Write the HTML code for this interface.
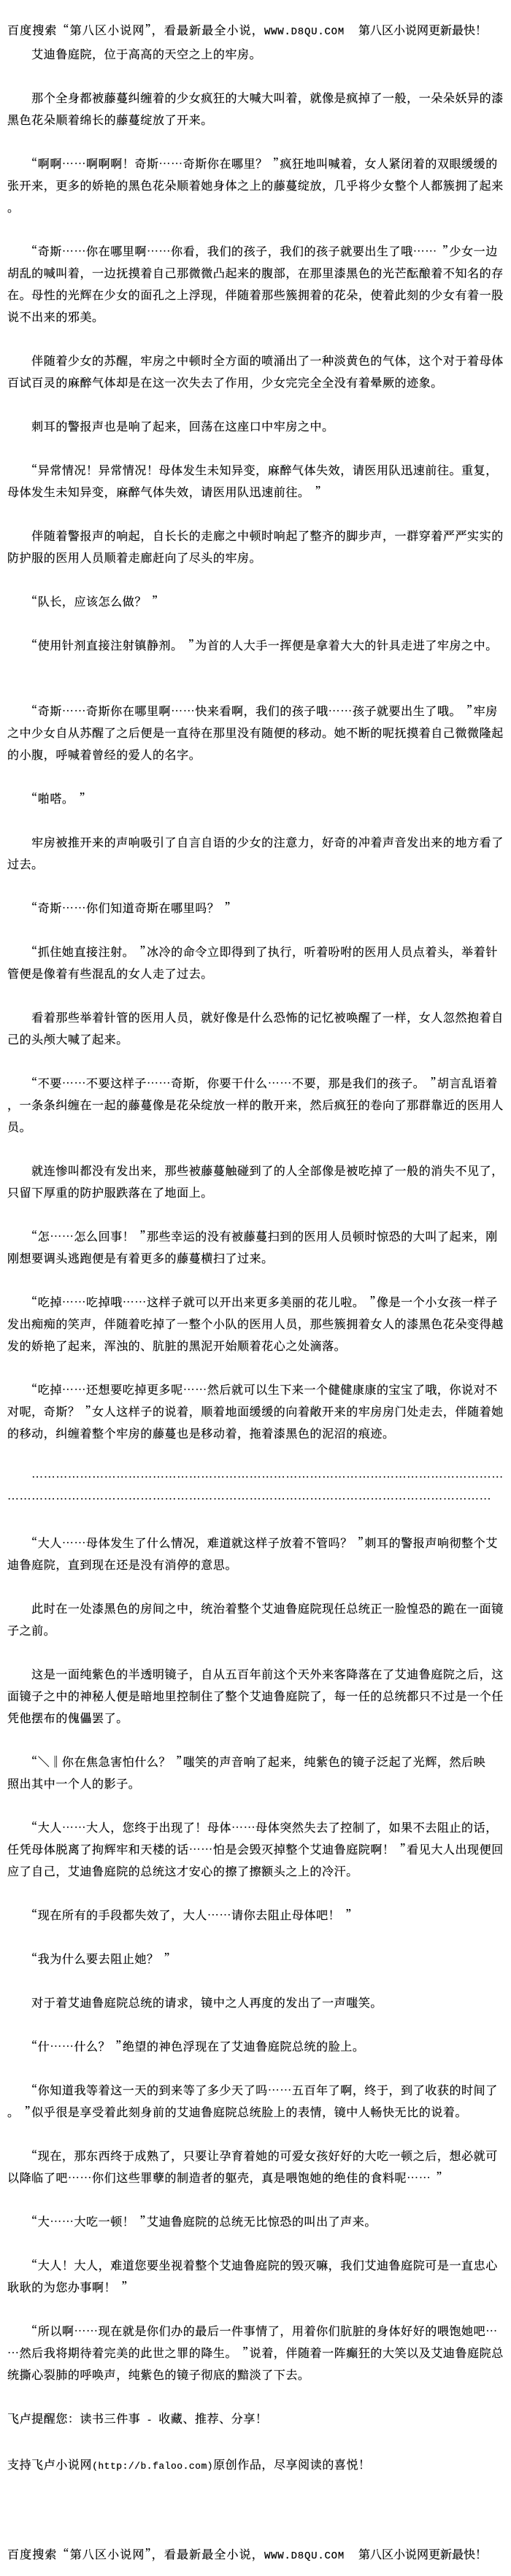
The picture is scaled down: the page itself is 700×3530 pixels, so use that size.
<!DOCTYPE html>
<html lang="zh-CN">
<head>
<meta charset="utf-8">
<title>艾迪鲁庭院</title>
<style>
html,body{margin:0;padding:0;background:#fff;width:700px;height:3530px;overflow:hidden}
pre{position:absolute;left:10px;top:26px;margin:0;color:#000;
font-family:"Noto Serif CJK SC","Liberation Serif",serif;font-size:16px;letter-spacing:.58px;line-height:30px;white-space:pre;-webkit-text-stroke:.2px #000}
.m{font-family:"Liberation Mono",monospace;font-size:13px;letter-spacing:.5px}
.w{font-family:"Liberation Mono",monospace;font-size:14px;letter-spacing:.77px;margin-right:19px}
.h{letter-spacing:1.14px}
.e{letter-spacing:0}
i{font-style:normal;display:inline-block;transform:translateX(7px)}
.d{display:inline-block;overflow:hidden;height:30px;vertical-align:top}
</style>
</head>
<body>
<pre><span class="h">百度搜索“第八区小说网”，看最新最全小说，</span><span class="w">WWW.D8QU.COM</span><span class="e">第八区小说网更新最快！</span>
　　艾迪鲁庭院，位于高高的天空之上的牢房。

　　那个全身都被藤蔓纠缠着的少女疯狂的大喊大叫着，就像是疯掉了一般，一朵朵妖异的漆
黑色花朵顺着绵长的藤蔓绽放了开来。

　　“啊啊……啊啊啊！奇斯……奇斯你在哪里？<i>”</i>疯狂地叫喊着，女人紧闭着的双眼缓缓的
张开来，更多的娇艳的黑色花朵顺着她身体之上的藤蔓绽放，几乎将少女整个人都簇拥了起来
。

　　“奇斯……你在哪里啊……你看，我们的孩子，我们的孩子就要出生了哦……<i>”</i>少女一边
胡乱的喊叫着，一边抚摸着自己那微微凸起来的腹部，在那里漆黑色的光芒酝酿着不知名的存
在。母性的光辉在少女的面孔之上浮现，伴随着那些簇拥着的花朵，使着此刻的少女有着一股
说不出来的邪美。

　　伴随着少女的苏醒，牢房之中顿时全方面的喷涌出了一种淡黄色的气体，这个对于着母体
百试百灵的麻醉气体却是在这一次失去了作用，少女完完全全没有着晕厥的迹象。

　　刺耳的警报声也是响了起来，回荡在这座口中牢房之中。

　　“异常情况！异常情况！母体发生未知异变，麻醉气体失效，请医用队迅速前往。重复，
母体发生未知异变，麻醉气体失效，请医用队迅速前往。<i>”</i>

　　伴随着警报声的响起，自长长的走廊之中顿时响起了整齐的脚步声，一群穿着严严实实的
防护服的医用人员顺着走廊赶向了尽头的牢房。

　　“队长，应该怎么做？<i>”</i>

　　“使用针剂直接注射镇静剂。<i>”</i>为首的人大手一挥便是拿着大大的针具走进了牢房之中。


　　“奇斯……奇斯你在哪里啊……快来看啊，我们的孩子哦……孩子就要出生了哦。<i>”</i>牢房
之中少女自从苏醒了之后便是一直待在那里没有随便的移动。她不断的呢抚摸着自己微微隆起
的小腹，呼喊着曾经的爱人的名字。

　　“啪嗒。<i>”</i>

　　牢房被推开来的声响吸引了自言自语的少女的注意力，好奇的冲着声音发出来的地方看了
过去。

　　“奇斯……你们知道奇斯在哪里吗？<i>”</i>

　　“抓住她直接注射。<i>”</i>冰冷的命令立即得到了执行，听着吩咐的医用人员点着头，举着针
管便是像着有些混乱的女人走了过去。

　　看着那些举着针管的医用人员，就好像是什么恐怖的记忆被唤醒了一样，女人忽然抱着自
己的头颅大喊了起来。

　　“不要……不要这样子……奇斯，你要干什么……不要，那是我们的孩子。<i>”</i>胡言乱语着
，一条条纠缠在一起的藤蔓像是花朵绽放一样的散开来，然后疯狂的卷向了那群靠近的医用人
员。

　　就连惨叫都没有发出来，那些被藤蔓触碰到了的人全部像是被吃掉了一般的消失不见了，
只留下厚重的防护服跌落在了地面上。

　　“怎……怎么回事！<i>”</i>那些幸运的没有被藤蔓扫到的医用人员顿时惊恐的大叫了起来，刚
刚想要调头逃跑便是有着更多的藤蔓横扫了过来。

　　“吃掉……吃掉哦……这样子就可以开出来更多美丽的花儿啦。<i>”</i>像是一个小女孩一样子
发出痴痴的笑声，伴随着吃掉了一整个小队的医用人员，那些簇拥着女人的漆黑色花朵变得越
发的娇艳了起来，浑浊的、肮脏的黑泥开始顺着花心之处滴落。

　　“吃掉……还想要吃掉更多呢……然后就可以生下来一个健健康康的宝宝了哦，你说对不
对呢，奇斯？<i>”</i>女人这样子的说着，顺着地面缓缓的向着敞开来的牢房房门处走去，伴随着她
的移动，纠缠着整个牢房的藤蔓也是移动着，拖着漆黑色的泥沼的痕迹。

　　<span class="d" style="width:647px">…………………………………………………………………………………………………………………………………………………………………………………………………………………………………</span>
<span class="d" style="width:664px">…………………………………………………………………………………………………………………………………………………………………………………………………………………………………</span>

　　“大人……母体发生了什么情况，难道就这样子放着不管吗？<i>”</i>刺耳的警报声响彻整个艾
迪鲁庭院，直到现在还是没有消停的意思。

　　此时在一处漆黑色的房间之中，统治着整个艾迪鲁庭院现任总统正一脸惶恐的跪在一面镜
子之前。

　　这是一面纯紫色的半透明镜子，自从五百年前这个天外来客降落在了艾迪鲁庭院之后，这
面镜子之中的神秘人便是暗地里控制住了整个艾迪鲁庭院了，每一任的总统都只不过是一个任
凭他摆布的傀儡罢了。

　　“＼‖你在焦急害怕什么？<i>”</i>嗤笑的声音响了起来，纯紫色的镜子泛起了光辉，然后映
照出其中一个人的影子。

　　“大人……大人，您终于出现了！母体……母体突然失去了控制了，如果不去阻止的话，
任凭母体脱离了拘辉牢和天楼的话……怕是会毁灭掉整个艾迪鲁庭院啊！<i>”</i>看见大人出现便回
应了自己，艾迪鲁庭院的总统这才安心的擦了擦额头之上的冷汗。

　　“现在所有的手段都失效了，大人……请你去阻止母体吧！<i>”</i>

　　“我为什么要去阻止她？<i>”</i>

　　对于着艾迪鲁庭院总统的请求，镜中之人再度的发出了一声嗤笑。

　　“什……什么？<i>”</i>绝望的神色浮现在了艾迪鲁庭院总统的脸上。

　　“你知道我等着这一天的到来等了多少天了吗……五百年了啊，终于，到了收获的时间了
。<i>”</i>似乎很是享受着此刻身前的艾迪鲁庭院总统脸上的表情，镜中人畅快无比的说着。

　　“现在，那东西终于成熟了，只要让孕育着她的可爱女孩好好的大吃一顿之后，想必就可
以降临了吧……你们这些罪孽的制造者的躯壳，真是喂饱她的绝佳的食料呢……<i>”</i>

　　“大……大吃一顿！<i>”</i>艾迪鲁庭院的总统无比惊恐的叫出了声来。

　　“大人！大人，难道您要坐视着整个艾迪鲁庭院的毁灭嘛，我们艾迪鲁庭院可是一直忠心
耿耿的为您办事啊！<i>”</i>

　　“所以啊……现在就是你们办的最后一件事情了，用着你们肮脏的身体好好的喂饱她吧…
…然后我将期待着完美的此世之罪的降生。<i>”</i>说着，伴随着一阵癫狂的大笑以及艾迪鲁庭院总
统撕心裂肺的呼唤声，纯紫色的镜子彻底的黯淡了下去。

飞卢提醒您：读书三件事<span class="m"> - </span>收藏、推荐、分享！

支持飞卢小说网<span class="m">(http://b.faloo.com)</span>原创作品，尽享阅读的喜悦！



<span class="h">百度搜索“第八区小说网”，看最新最全小说，</span><span class="w">WWW.D8QU.COM</span><span class="e">第八区小说网更新最快！</span></pre>
</body>
</html>
